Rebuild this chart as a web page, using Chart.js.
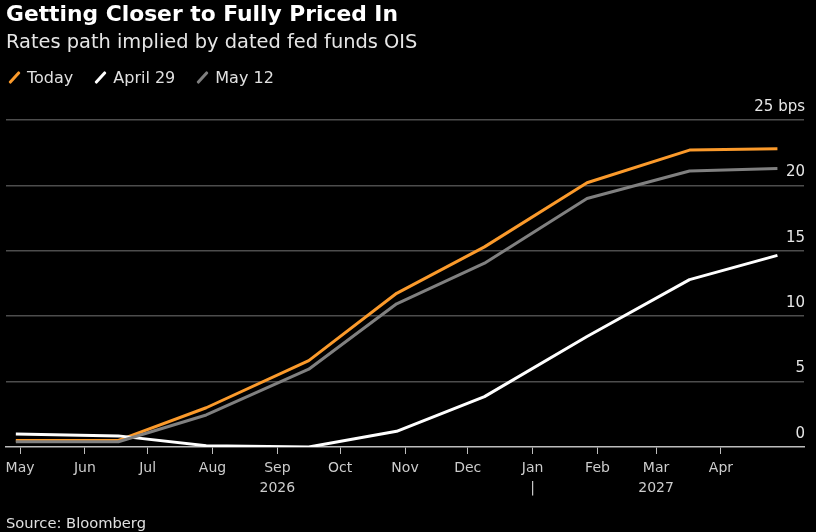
<!DOCTYPE html>
<html>
<head>
<meta charset="utf-8">
<script src="https://cdn.jsdelivr.net/npm/chart.js@4"></script>
<style>
    html, body { margin: 0; padding: 0; background: #000; }
    body { width: 816px; height: 532px; position: relative; overflow: hidden; font-family: "DejaVu Sans", sans-serif; }
    #title { position: absolute; left: 6px; top: 1px; color: #fff; font-size: 21.8px; font-weight: bold; }
    #subtitle { position: absolute; left: 6px; top: 30px; color: #e6e6e6; font-size: 19.4px; }
    #legend { position: absolute; left: 6px; top: 66px; height: 22px; color: #e0e0e0; font-size: 16px; display: flex; }
    .item { display: flex; align-items: center; margin-right: 19px; }
    .swatch { width: 3px; height: 15px; transform: rotate(42deg); margin: 0 11px 0 7px; border-radius: 1px; }
    #source { position: absolute; left: 6px; top: 514px; color: #e0e0e0; font-size: 14.7px; }
    #chart-wrap { position: absolute; left: 0; top: 0; width: 816px; height: 532px; }
</style>
</head>
<body>
<div id="chart-wrap"><canvas id="rates-chart"></canvas></div>
<div id="title">Getting Closer to Fully Priced In</div>
<div id="subtitle">Rates path implied by dated fed funds OIS</div>
<div id="legend"></div>
<div id="source">Source: Bloomberg</div>

<script>
// FOMC meeting dates (x positions)
const meetingDates = ['2026-04-29', '2026-06-17', '2026-07-29', '2026-09-16', '2026-10-28',
                      '2026-12-09', '2027-01-27', '2027-03-17', '2027-04-28'];

// Cumulative cuts priced (bps)
const todayValues   = [0.5, 0.5, 3.0, 6.6, 11.75, 15.3, 20.2, 22.7, 22.8];
const april29Values = [1.0, 0.85, 0.1, 0.0, 1.2, 3.85, 8.45, 12.8, 14.65];
const may12Values   = [0.4, 0.4, 2.45, 5.95, 10.95, 14.05, 19.0, 21.1, 21.3];

const seriesNames  = ['Today', 'April 29', 'May 12'];
const seriesColors = ['#fb9a2b', '#ffffff', '#808080'];

// Month ticks along the x axis
const monthStarts = ['2026-05-01', '2026-06-01', '2026-07-01', '2026-08-01', '2026-09-01', '2026-10-01',
                     '2026-11-01', '2026-12-01', '2027-01-01', '2027-02-01', '2027-03-01', '2027-04-01'];
const monthLabels = [['May'], ['Jun'], ['Jul'], ['Aug'], ['Sep', '2026'], ['Oct'],
                     ['Nov'], ['Dec'], ['Jan', '|'], ['Feb'], ['Mar', '2027'], ['Apr']];

const yTicks = [0, 5, 10, 15, 20, 25];

// days since May 1, 2026 (no date adapter available, so use a linear axis)
const origin = Date.UTC(2026, 4, 1);
function toDay(s) {
    const p = s.split('-').map(Number);
    return (Date.UTC(p[0], p[1] - 1, p[2]) - origin) / 86400000;
}

const xs = meetingDates.map(toDay);
const monthDays = monthStarts.map(toDay);

function points(values) {
    return values.map((v, i) => ({ x: xs[i], y: v }));
}

// Legend
const legendEl = document.getElementById('legend');
seriesNames.forEach((name, i) => {
    const item = document.createElement('div');
    item.className = 'item';
    item.innerHTML = `<span class="swatch" style="background:${seriesColors[i]}"></span><span>${name}</span>`;
    legendEl.appendChild(item);
});

const ctx = document.getElementById('rates-chart').getContext('2d');
new Chart(ctx, {
    type: 'line',
    data: {
        datasets: [
            { label: 'May 12', data: points(may12Values), borderColor: seriesColors[2] },
            { label: 'April 29', data: points(april29Values), borderColor: seriesColors[1] },
            { label: 'Today', data: points(todayValues), borderColor: seriesColors[0] }
        ]
    },
    options: {
        responsive: true,
        maintainAspectRatio: false,
        animation: false,
        layout: { padding: { top: 120, left: 6, right: 12, bottom: 0 } },
        elements: {
            line: { borderWidth: 3, tension: 0, borderJoinStyle: 'round' },
            point: { radius: 0 }
        },
        plugins: {
            legend: { display: false },
            tooltip: { enabled: false }
        },
        scales: {
            x: {
                type: 'linear',
                min: -6.7,
                max: 374.7,
                afterBuildTicks: scale => { scale.ticks = monthDays.map(v => ({ value: v })); },
                afterFit: scale => { scale.height = 85; },
                ticks: {
                    autoSkip: false,
                    maxRotation: 0,
                    color: '#cccccc',
                    padding: 4,
                    font: { family: 'DejaVu Sans', size: 14, lineHeight: 1.45 },
                    callback: (value, index) => monthLabels[index]
                },
                grid: {
                    drawOnChartArea: false,
                    drawTicks: true,
                    tickLength: 7,
                    tickColor: '#bdbdbd'
                },
                border: { color: '#bdbdbd', width: 1.5 }
            },
            y: {
                position: 'right',
                min: 0,
                max: 25,
                afterBuildTicks: scale => { scale.ticks = yTicks.map(v => ({ value: v })); },
                afterFit: scale => { scale.width = 0; },
                ticks: {
                    mirror: true,
                    padding: 1,
                    labelOffset: -13,
                    color: '#e6e6e6',
                    font: { family: 'DejaVu Sans', size: 15 },
                    callback: v => v === 25 ? '25 bps' : String(v)
                },
                grid: {
                    drawTicks: false,
                    color: ctx => ctx.tick && ctx.tick.value === 0 ? 'rgba(0,0,0,0)' : '#4d4d4d',
                    lineWidth: 1.5
                },
                border: { display: false }
            }
        }
    }
});
</script>
</body>
</html>
